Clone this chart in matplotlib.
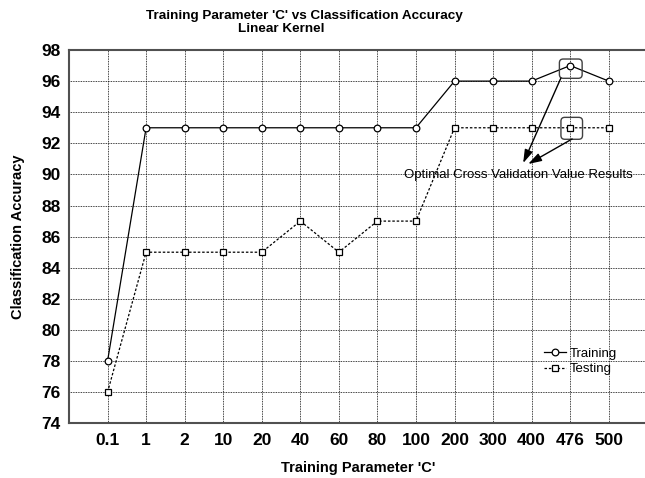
"""Training parameter C vs classification accuracy, linear kernel."""

import matplotlib

matplotlib.use("Agg")
import matplotlib.pyplot as plt
from matplotlib.patches import FancyBboxPatch

c_labels = ["0.1", "1", "2", "10", "20", "40", "60", "80", "100",
            "200", "300", "400", "476", "500"]
training = [78, 93, 93, 93, 93, 93, 93, 93, 93, 96, 96, 96, 97, 96]
testing = [76, 85, 85, 85, 85, 87, 85, 87, 87, 93, 93, 93, 93, 93]

plt.rcParams["font.family"] = ["Liberation Sans", "DejaVu Sans"]

x = list(range(1, len(c_labels) + 1))

fig = plt.figure(figsize=(6.45, 4.78), dpi=100)
ax = fig.add_axes([69 / 645, 0.1144, 578.3 / 645, 0.781])

ax.plot(x, training, color="black", lw=0.9, marker="o", ms=4.8,
        mfc="white", mec="black", mew=0.9, label="Training", zorder=3)
ax.plot(x, testing, color="black", lw=0.9, ls=(0, (2, 1.5)), marker="s",
        ms=4.5, mfc="white", mec="black", mew=0.9, label="Testing", zorder=3)

ax.set_xlim(0, 15)
ax.set_ylim(74, 98)
ax.set_xticks(x)
ax.set_xticklabels(c_labels)
ax.set_yticks(range(74, 99, 2))
ax.tick_params(length=0, labelsize=12.5)
ax.tick_params(axis="y", pad=6)
ax.tick_params(axis="x", pad=7)
for lbl in ax.get_xticklabels() + ax.get_yticklabels():
    lbl.set_fontweight("bold")

ax.grid(True, color="black", ls=(0, (1, 1)), lw=0.6)
for side in ["top", "left", "bottom", "right"]:
    ax.spines[side].set_color("#505050")
    ax.spines[side].set_linewidth(1.5)

ax.set_xlabel("Training Parameter 'C'", fontsize=10.5, fontweight="bold", labelpad=9)
ax.set_ylabel("Classification Accuracy", fontsize=10.5, fontweight="bold", labelpad=12)

fig.text(304.5 / 645, 1 - 16 / 478, "Training Parameter 'C' vs Classification Accuracy",
         ha="center", va="center", fontsize=9.7, fontweight="bold")
fig.text(281 / 645, 1 - 29 / 478, "Linear Kernel",
         ha="center", va="center", fontsize=9.7, fontweight="bold")

leg = ax.legend(loc="upper left", bbox_to_anchor=(0.813, 0.217), frameon=False,
                fontsize=9.5, handlelength=1.6, handletextpad=0.3,
                labelspacing=0.25, borderaxespad=0)

# rounded highlight boxes around the optimal points
for (x0, y0, x1, y1) in [(12.72, 96.18, 13.31, 97.42), (12.76, 92.26, 13.32, 93.67)]:
    box = FancyBboxPatch((x0, y0), x1 - x0, y1 - y0,
                         boxstyle="round,pad=0,rounding_size=0.1",
                         mutation_aspect=2.48, fc="none", ec="#404040",
                         lw=1.0, zorder=4)
    ax.add_patch(box)

ax.text(11.66, 89.95, "Optimal Cross Validation Value Results",
        ha="center", va="center", fontsize=9.5, zorder=5)
for (sx, sy), (ex, ey) in [((12.76, 96.2), (11.78, 90.73)),
                           ((13.05, 92.28), (11.91, 90.67))]:
    ax.annotate("", xy=(ex, ey), xytext=(sx, sy),
                arrowprops=dict(arrowstyle="-|>,head_length=0.8,head_width=0.25",
                                color="black", lw=1.0, shrinkA=0, shrinkB=0),
                zorder=5)

fig.savefig("out.png", dpi=100)
